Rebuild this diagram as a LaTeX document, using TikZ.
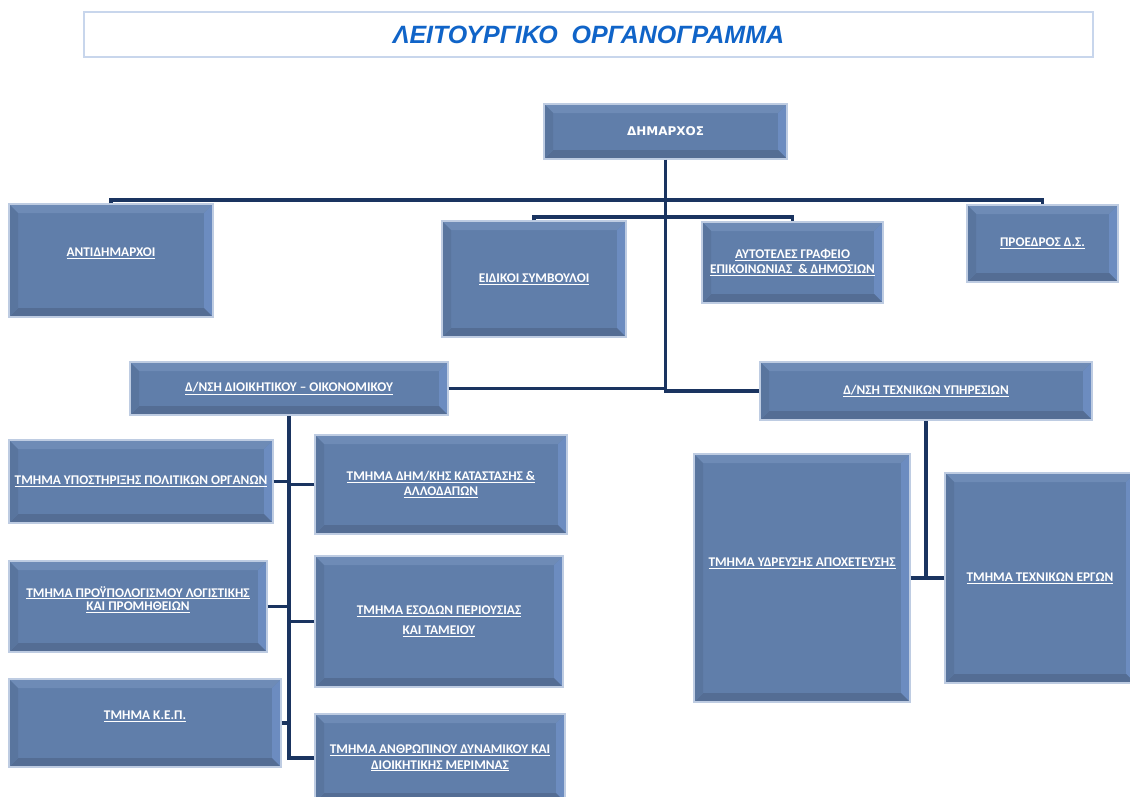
\documentclass[tikz,border=0pt]{standalone}
\usepackage{fontspec}
\newfontfamily\boxfont{Carlito}
\newfontfamily\headfont{Liberation Sans}
\newfontfamily\chieffont{DejaVu Sans}
\definecolor{boxfill}{RGB}{96,126,170}
\definecolor{boxedge}{RGB}{190,204,226}
\definecolor{bvtop}{RGB}{110,139,182}
\definecolor{bvright}{RGB}{108,140,192}
\definecolor{bvbottom}{RGB}{84,109,148}
\definecolor{bvleft}{RGB}{89,117,158}
\definecolor{linkblue}{RGB}{26,52,96}
\definecolor{headblue}{RGB}{16,100,200}
\definecolor{headedge}{RGB}{200,214,236}
\begin{document}
\begin{tikzpicture}[x=1pt,y=-1pt]

    \tikzset{
      sz/.style 2 args={minimum width=#1pt, minimum height=#2pt},
      unit/.style={
        draw=boxedge,
        line width=1.2pt,
        fill=boxfill,
        inner sep=2pt,
        align=center,
        text=white,
        font=\boxfont\bfseries\fontsize{13.3}{15.5}\selectfont,
        path picture={
          \def\bb{path picture bounding box}
          \fill[bvtop] (\bb.north west) -- (\bb.north east) -- ([shift={(-9pt,-9pt)}]\bb.north east) -- ([shift={(9pt,-9pt)}]\bb.north west) -- cycle;
          \fill[bvright] (\bb.north east) -- (\bb.south east) -- ([shift={(-9pt,9pt)}]\bb.south east) -- ([shift={(-9pt,-9pt)}]\bb.north east) -- cycle;
          \fill[bvbottom] (\bb.south east) -- (\bb.south west) -- ([shift={(9pt,9pt)}]\bb.south west) -- ([shift={(-9pt,9pt)}]\bb.south east) -- cycle;
          \fill[bvleft] (\bb.south west) -- (\bb.north west) -- ([shift={(9pt,-9pt)}]\bb.north west) -- ([shift={(9pt,9pt)}]\bb.south west) -- cycle;
        },
      },
      link/.style={draw=linkblue, line width=3.5pt},
    }
    \useasboundingbox (0,0) rectangle (1130,796);

    % title
    \node[draw=headedge, line width=1.5pt, fill=white, sz={1009}{45}, text=headblue,
      font=\headfont\bfseries\itshape\fontsize{25}{29}\selectfont] (title) at (588.5,34.5) {ΛΕΙΤΟΥΡΓΙΚΟ\ \ ΟΡΓΑΝΟΓΡΑΜΜΑ};

    % top level
    \node[unit, sz={243}{55}, font=\chieffont\bfseries\fontsize{12}{14}\selectfont] (dim) at (665.5,131.5) {ΔΗΜΑΡΧΟΣ};
    \node[unit, sz={204}{113}] (antid) at (111,260.5) {\raisebox{17pt}{\underline{ΑΝΤΙΔΗΜΑΡΧΟΙ}}};
    \node[unit, sz={184}{116}] (eid) at (534,279) {\underline{ΕΙΔΙΚΟΙ ΣΥΜΒΟΥΛΟΙ}};
    \node[unit, sz={181}{81}] (aut) at (792.5,262.5) {\underline{ΑΥΤΟΤΕΛΕΣ ΓΡΑΦΕΙΟ}\\\underline{ΕΠΙΚΟΙΝΩΝΙΑΣ\ \ \& ΔΗΜΟΣΙΩΝ}};
    \node[unit, sz={151}{77}] (pro) at (1042.5,243.5) {\underline{ΠΡΟΕΔΡΟΣ Δ.Σ.}};

    % directorates
    \node[unit, sz={318}{53}] (dio) at (289,388.5) {\underline{Δ/ΝΣΗ ΔΙΟΙΚΗΤΙΚΟΥ – ΟΙΚΟΝΟΜΙΚΟΥ}};
    \node[unit, sz={332}{58}] (tex) at (926,391) {\underline{Δ/ΝΣΗ ΤΕΧΝΙΚΩΝ ΥΠΗΡΕΣΙΩΝ}};

    % departments, administration
    \node[unit, sz={264}{83}] (ypo) at (141,481.5) {\underline{ΤΜΗΜΑ ΥΠΟΣΤΗΡΙΞΗΣ ΠΟΛΙΤΙΚΩΝ ΟΡΓΑΝΩΝ}};
    \node[unit, sz={258}{91}] (prp) at (138,606.5) {\raisebox{16pt}{\shortstack{\underline{ΤΜΗΜΑ ΠΡΟΫΠΟΛΟΓΙΣΜΟΥ ΛΟΓΙΣΤΙΚΗΣ}\\\underline{ΚΑΙ ΠΡΟΜΗΘΕΙΩΝ}}}};
    \node[unit, sz={272}{88}] (kep) at (145,723) {\raisebox{16pt}{\underline{ΤΜΗΜΑ Κ.Ε.Π.}}};
    \node[unit, sz={252}{99}] (dhm) at (441,484.5) {\underline{ΤΜΗΜΑ ΔΗΜ/ΚΗΣ ΚΑΤΑΣΤΑΣΗΣ \&}\\\underline{ΑΛΛΟΔΑΠΩΝ}};
    \node[unit, sz={248}{131}, font=\boxfont\bfseries\fontsize{13.3}{20}\selectfont] (eso) at (439,621.5) {\underline{ΤΜΗΜΑ ΕΣΟΔΩΝ ΠΕΡΙΟΥΣΙΑΣ}\\\underline{ΚΑΙ ΤΑΜΕΙΟΥ}};
    \node[unit, sz={250}{88}] (anth) at (440,758) {\underline{ΤΜΗΜΑ ΑΝΘΡΩΠΙΝΟΥ ΔΥΝΑΜΙΚΟΥ ΚΑΙ}\\\underline{ΔΙΟΙΚΗΤΙΚΗΣ ΜΕΡΙΜΝΑΣ}};

    % departments, technical
    \node[unit, sz={216}{248}] (yd) at (802,578) {\raisebox{32pt}{\underline{ΤΜΗΜΑ ΥΔΡΕΥΣΗΣ ΑΠΟΧΕΤΕΥΣΗΣ}}};
    \node[unit, sz={190}{210}] (erg) at (1040,578) {\underline{ΤΜΗΜΑ ΤΕΧΝΙΚΩΝ ΕΡΓΩΝ}};

    % connectors
    \coordinate (bus1) at (665.5,200);
    \coordinate (bus2) at (665.5,217);
    \coordinate (bus3) at (665.5,389);
    \draw[link] (dim.south) -- (bus3);
    \draw[link] (antid.north) |- (bus1) -| (pro.north);
    \draw[link] (eid.north) |- (bus2) -| (aut.north);
    \draw[link] (dio.east) -| (bus3) |- (tex.west);
    \foreach \d in {ypo,prp,kep}
      \draw[link] (\d.east) -| (dio.south);
    \foreach \d in {dhm,eso,anth}
      \draw[link] (\d.west) -| (dio.south);
    \draw[link] (yd.east) -| (tex.south);
    \draw[link] (erg.west) -| (tex.south);

\end{tikzpicture}
\end{document}
